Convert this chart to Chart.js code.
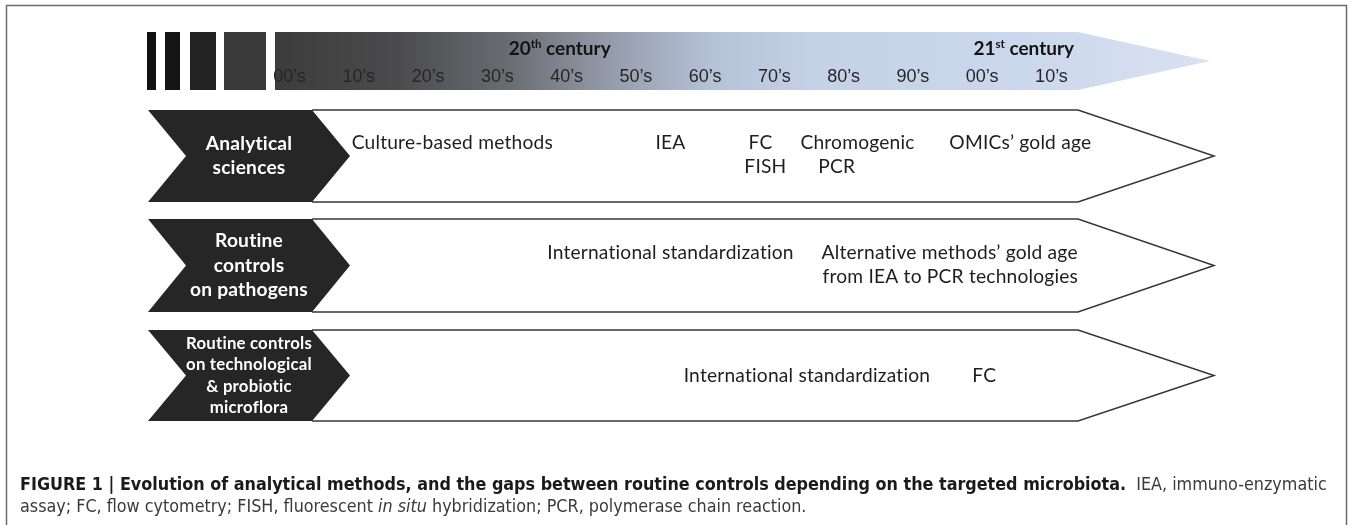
<!DOCTYPE html>
<html lang="en">
<head>
  <meta charset="UTF-8">
  <title>Figure 1 - Evolution of analytical methods</title>
  <script src="https://cdn.jsdelivr.net/npm/chart.js"></script>
  <style>
    body {
      margin: 0;
      padding: 0;
      background: #ffffff;
      overflow: hidden;
    }
    .wrap {
      position: relative;
      width: 1349px;
      height: 525px;
    }
    #timeline {
      position: absolute;
      left: 0;
      top: 0;
    }
    .caption {
      position: absolute;
      left: 20px;
      top: 473px;
      font-family: 'Liberation Sans Narrow', 'DejaVu Sans Condensed', sans-serif;
      font-size: 18px;
      line-height: 22px;
      color: #3a3a3a;
    }
    .caption div {
      white-space: nowrap;
    }
    .caption b {
      color: #1a1a1a;
    }
  </style>
</head>
<body>
  <div class="wrap">
    <canvas id="timeline"></canvas>
    <div class="caption" id="caption">
      <div id="capLine1"><b>FIGURE 1 | Evolution of analytical methods, and the gaps between routine controls depending on the targeted microbiota.</b>&nbsp; IEA, immuno-enzymatic</div>
      <div>assay; FC, flow cytometry; FISH, fluorescent <i>in situ</i> hybridization; PCR, polymerase chain reaction.</div>
    </div>
  </div>

  <script>
    // time axis: decades along the top arrow
    const decadeLabels = ["00’s", "10’s", "20’s", "30’s", "40’s", "50’s", "60’s", "70’s", "80’s", "90’s", "00’s", "10’s"];
    const decadeYears = [1900, 1910, 1920, 1930, 1940, 1950, 1960, 1970, 1980, 1990, 2000, 2010];
    const centuryNumbers = ["20", "21"];
    const centurySuffixes = ["th", "st"];
    const centuryYears = [1939, 2006];

    // left hand labels of the three rows
    const rowLabels = [
      ["Analytical", "sciences"],
      ["Routine", "controls", "on pathogens"],
      ["Routine controls", "on technological", "& probiotic", "microflora"]
    ];

    // what happens when, per row (line 0 = upper text line, 1 = lower)
    const row1Items = ["Culture-based methods", "IEA", "FC", "Chromogenic", "FISH", "PCR", "OMICs’ gold age"];
    const row1Years = [1923.5, 1955, 1968, 1982, 1968.7, 1979, 2005.5];
    const row1Lines = [0, 0, 0, 0, 1, 1, 0];

    const row2Items = ["International standardization", "Alternative methods’ gold age", "from IEA to PCR technologies"];
    const row2Years = [1955, 1995.3, 1995.4];
    const row2Lines = [0, 0, 1];

    const row3Items = ["International standardization", "FC"];
    const row3Years = [1974.7, 2000.3];
    const row3Lines = [0, 0];

    // layout (pixels)
    const W = 1349, H = 525;
    const rowTops = [110, 219, 330];
    const rowBottoms = [202, 312, 421];
    const lineGap = 24;

    const pxPerYear = 6.927;
    const xMin = 1900 - 289.5 / pxPerYear;
    const xMax = xMin + W / pxPerYear;

    function rowMid(r) { return (rowTops[r] + rowBottoms[r]) / 2; }

    function itemPoints(years, lines, r, single) {
      return years.map((yr, i) => ({
        x: yr,
        y: single ? rowMid(r) : rowMid(r) - 1 + (lines[i] - 0.5) * lineGap
      }));
    }

    const textFont = "19.2px Lato";

    function plainText(ctx) {
      // no ti / fi ligatures, like the original figure
      ctx.textRendering = 'optimizeSpeed';
      ctx.letterSpacing = '0.2px';
    }

    const drawDiagram = {
      id: 'drawDiagram',
      beforeDatasetsDraw(chart) {
        const ctx = chart.ctx;
        const x = chart.scales.x;
        ctx.save();
        plainText(ctx);

        // frame
        ctx.strokeStyle = '#6b6b6b';
        ctx.lineWidth = 1.5;
        ctx.strokeRect(6.5, 5.5, 1340, 540);

        // black bars before the arrow
        const bars = [[147, 9, '#111111'], [165, 15, '#141414'], [190, 26, '#232323'], [224, 42, '#3a3a3a']];
        bars.forEach(b => {
          ctx.fillStyle = b[2];
          ctx.fillRect(b[0], 32, b[1], 58);
        });

        // time arrow with grey to blue gradient
        const aL = 275, aR = 1078, aTip = 1210, aT = 32, aB = 90;
        const g = ctx.createLinearGradient(aL, 0, aTip, 0);
        g.addColorStop(0, '#3c3c3c');
        g.addColorStop(0.13, '#4b4b4d');
        g.addColorStop(0.25, '#6a6c72');
        g.addColorStop(0.36, '#959cab');
        g.addColorStop(0.47, '#b5c2d8');
        g.addColorStop(0.58, '#c4d1e7');
        g.addColorStop(0.8, '#cbd7ec');
        g.addColorStop(1, '#d9e2f1');
        ctx.fillStyle = g;
        ctx.beginPath();
        ctx.moveTo(aL, aT);
        ctx.lineTo(aR, aT);
        ctx.lineTo(aTip, (aT + aB) / 2);
        ctx.lineTo(aR, aB);
        ctx.lineTo(aL, aB);
        ctx.closePath();
        ctx.fill();

        // rows: outline arrows + dark chevrons
        rowTops.forEach((top, r) => {
          const bot = rowBottoms[r], mid = rowMid(r);
          ctx.strokeStyle = '#363636';
          ctx.lineWidth = 1.5;
          ctx.beginPath();
          ctx.moveTo(312, top);
          ctx.lineTo(1078, top);
          ctx.lineTo(1214, mid);
          ctx.lineTo(1078, bot);
          ctx.lineTo(312, bot);
          ctx.stroke();

          ctx.fillStyle = '#262626';
          ctx.beginPath();
          ctx.moveTo(148, top);
          ctx.lineTo(312, top);
          ctx.lineTo(350, mid);
          ctx.lineTo(312, bot);
          ctx.lineTo(148, bot);
          ctx.lineTo(186, mid);
          ctx.closePath();
          ctx.fill();

          const lines = rowLabels[r];
          const lh = r === 2 ? 21.5 : 24.5;
          ctx.fillStyle = '#ffffff';
          ctx.font = (r === 2 ? 'bold 16.8px Lato' : 'bold 19.2px Lato');
          ctx.textAlign = 'center';
          ctx.textBaseline = 'middle';
          lines.forEach((t, i) => {
            ctx.fillText(t, 249, mid + (i - (lines.length - 1) / 2) * lh);
          });
        });

        // century headings with superscript
        ctx.textBaseline = 'alphabetic';
        ctx.textAlign = 'left';
        ctx.fillStyle = '#141414';
        ctx.letterSpacing = '0px';
        centuryNumbers.forEach((n, i) => {
          const cx = x.getPixelForValue(centuryYears[i]);
          ctx.font = 'bold 19px Lato';
          const w1 = ctx.measureText(n).width;
          const w3 = ctx.measureText(' century').width;
          ctx.font = 'bold 11.5px Lato';
          const w2 = ctx.measureText(centurySuffixes[i]).width;
          const sx = cx - (w1 + w2 + w3) / 2;
          const base = 55;
          ctx.font = 'bold 19px Lato';
          ctx.fillText(n, sx, base);
          ctx.font = 'bold 11.5px Lato';
          ctx.fillText(centurySuffixes[i], sx + w1, base - 7);
          ctx.font = 'bold 19px Lato';
          ctx.fillText(' century', sx + w1 + w2, base);
        });

        ctx.restore();
      },
      afterDatasetsDraw(chart) {
        const ctx = chart.ctx;
        ctx.save();
        plainText(ctx);
        ctx.textAlign = 'center';
        ctx.textBaseline = 'middle';
        chart.data.datasets.forEach((ds, di) => {
          const meta = chart.getDatasetMeta(di);
          ctx.font = ds.font;
          ctx.fillStyle = ds.textColor;
          ctx.letterSpacing = ds.spacing;
          meta.data.forEach((pt, i) => {
            ctx.fillText(ds.texts[i], pt.x, pt.y);
          });
        });
        ctx.restore();
      }
    };

    const common = { pointRadius: 0, pointHoverRadius: 0, showLine: false };

    new Chart(document.getElementById('timeline'), {
      type: 'scatter',
      data: {
        datasets: [
          Object.assign({
            label: 'decades',
            data: decadeYears.map(yr => ({ x: yr, y: 77 })),
            texts: decadeLabels,
            font: '18px "Liberation Sans", Arial, sans-serif',
            spacing: '0px',
            textColor: '#262626'
          }, common),
          Object.assign({
            label: 'Analytical sciences',
            data: itemPoints(row1Years, row1Lines, 0, false),
            texts: row1Items,
            font: textFont,
            spacing: '0.2px',
            textColor: '#1e1e1e'
          }, common),
          Object.assign({
            label: 'Routine controls on pathogens',
            data: itemPoints(row2Years, row2Lines, 1, false),
            texts: row2Items,
            font: textFont,
            spacing: '0.2px',
            textColor: '#1e1e1e'
          }, common),
          Object.assign({
            label: 'Routine controls on technological & probiotic microflora',
            data: itemPoints(row3Years, row3Lines, 2, true),
            texts: row3Items,
            font: textFont,
            spacing: '0.2px',
            textColor: '#1e1e1e'
          }, common)
        ]
      },
      options: {
        responsive: true,
        maintainAspectRatio: false,
        animation: false,
        events: [],
        layout: { padding: 0 },
        plugins: {
          legend: { display: false },
          tooltip: { enabled: false }
        },
        scales: {
          x: { type: 'linear', min: xMin, max: xMax, display: false },
          y: { type: 'linear', min: 0, max: H, reverse: true, display: false }
        }
      },
      plugins: [drawDiagram]
    });

    // stretch the caption font so the first line ends where it does in the figure
    const cap = document.getElementById('caption');
    const l1 = document.getElementById('capLine1');
    const target = 1307;
    const w = l1.getBoundingClientRect().width;
    if (w > 0) {
      cap.style.fontSize = (18 * target / w).toFixed(2) + 'px';
    }
  </script>
</body>
</html>
